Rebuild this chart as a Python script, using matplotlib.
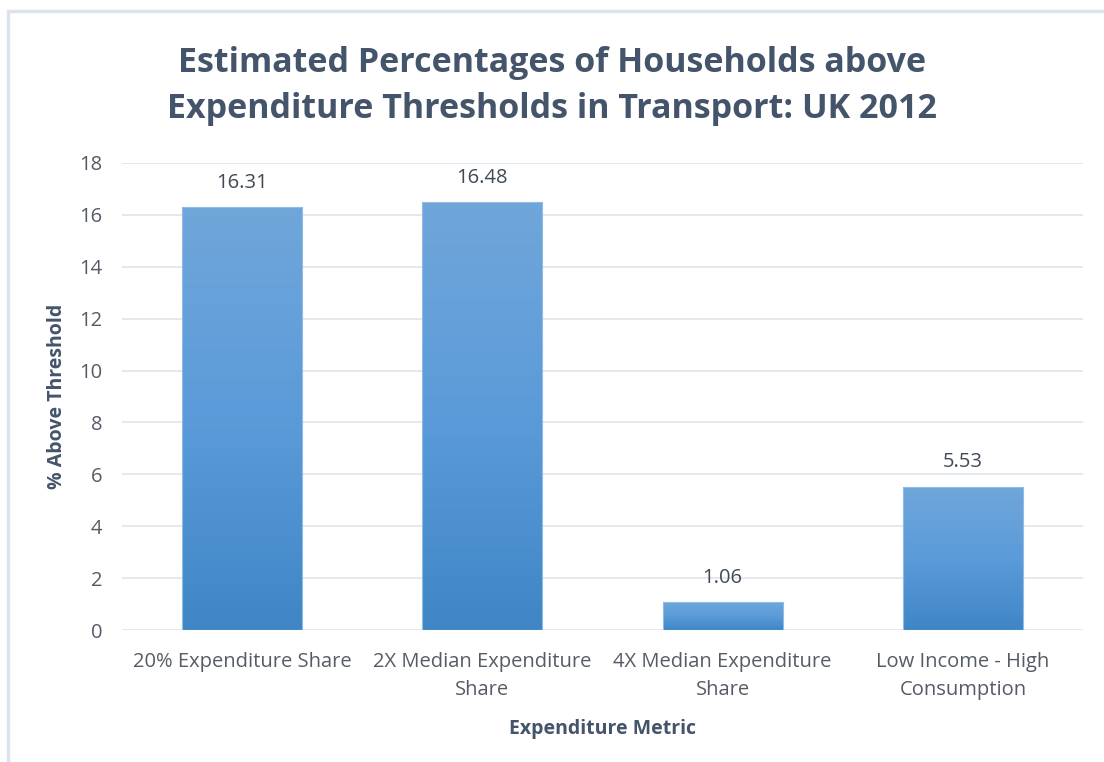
import numpy as np
import matplotlib.pyplot as plt
from matplotlib.colors import LinearSegmentedColormap
from matplotlib.patches import Rectangle

categories = ["20% Expenditure Share", "2X Median Expenditure\nShare",
              "4X Median Expenditure\nShare", "Low Income - High\nConsumption"]
values = [16.31, 16.48, 1.06, 5.53]
yticks = [0, 2, 4, 6, 8, 10, 12, 14, 16, 18]

plt.rcParams['font.family'] = ['Open Sans', 'DejaVu Sans']

fig = plt.figure(figsize=(11.04, 7.62), dpi=100)
# light frame around the chart area
fig.patches.append(Rectangle((7.5 / 1104, -0.01), 1.02, 1 - 10.5 / 762 + 0.01,
                             transform=fig.transFigure, fill=False,
                             edgecolor='#dde3ec', linewidth=2.5))

ax = fig.add_axes([122 / 1104, 1 - 630 / 762, 961 / 1104, 467 / 762])
x = np.arange(len(categories))
bars = ax.bar(x, values, width=0.5, color='none', edgecolor='none', zorder=3)

# vertical gradient fill for each bar
grad = LinearSegmentedColormap.from_list('bar', ['#3f86c6', '#5b9bd9', '#70a6da'])
g = np.linspace(0, 1, 256).reshape(-1, 1)
for b in bars:
    x0, w, h = b.get_x(), b.get_width(), b.get_height()
    im = ax.imshow(g, cmap=grad, aspect='auto', origin='lower',
                   extent=(x0, x0 + w, 0, h), zorder=3)
    im.set_clip_path(b)
    ax.add_patch(Rectangle((x0, 0), w, h, fill=False, edgecolor='#8fbbe6',
                           linewidth=0.8, zorder=4))
    ax.text(x0 + w / 2, h + 0.55, f"{h:.2f}", ha='center', va='bottom',
            fontsize=14.5, color='#404a57', zorder=5)

ax.set_xlim(-0.5, 3.5)
ax.set_ylim(0, 18)
ax.set_yticks(yticks)
ax.set_xticks(x)
ax.set_xticklabels(categories, fontsize=14.5, color='#555c66', linespacing=1.5)
ax.tick_params(axis='y', labelsize=14.5, labelcolor='#555c66', length=0, pad=14)
ax.tick_params(axis='x', length=0, pad=16)
ax.grid(axis='y', color='#e3e6eb', linewidth=1.3, zorder=0)
ax.set_axisbelow(True)
for s in ax.spines.values():
    s.set_visible(False)

ax.set_ylabel("% Above Threshold", fontsize=14, fontweight='bold',
              color='#44546a', labelpad=9)
ax.set_xlabel("Expenditure Metric", fontsize=14, fontweight='bold',
              color='#44546a', labelpad=14)

fig.text(0.5, 1 - 86 / 762, "Estimated Percentages of Households above\n"
         "Expenditure Thresholds in Transport: UK 2012",
         ha='center', va='center', fontsize=24.5, fontweight='bold',
         color='#44546a', linespacing=1.5)

fig.savefig("out.png", dpi=100)
